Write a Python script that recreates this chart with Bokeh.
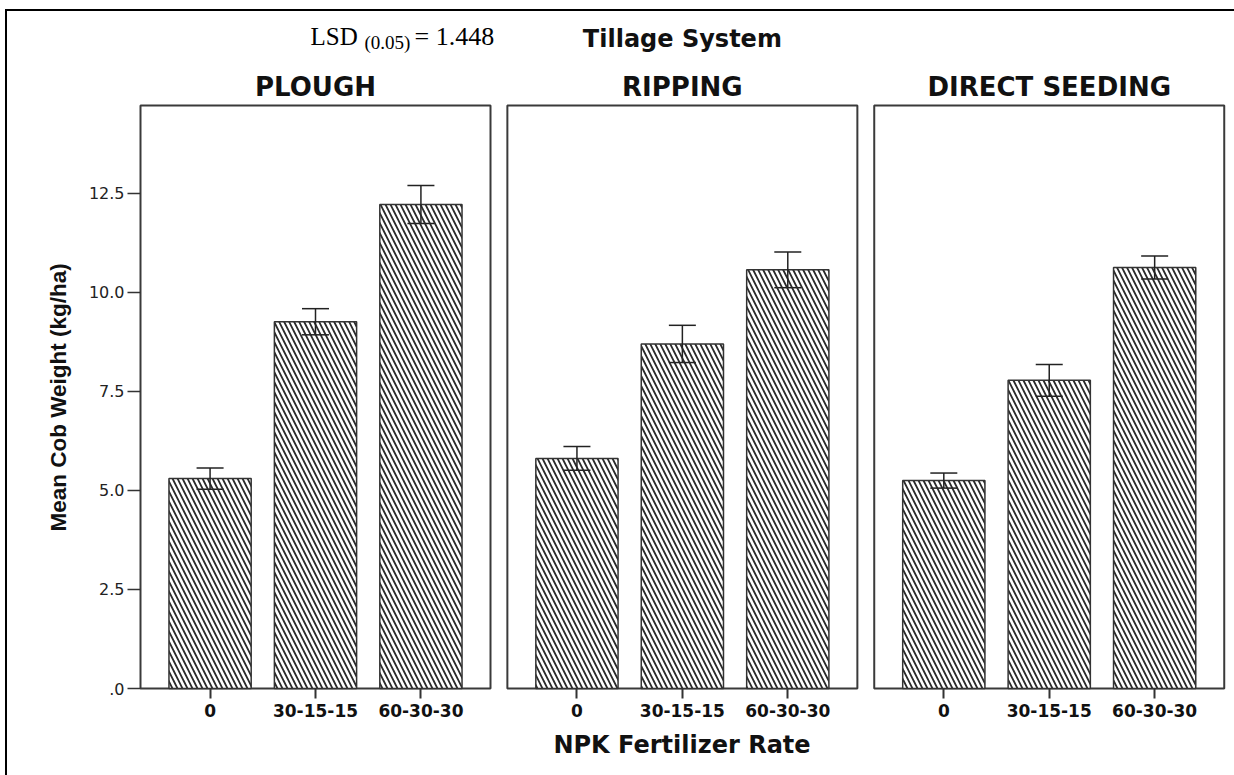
from bokeh.plotting import figure
from bokeh.models import (Range1d, FixedTicker, Whisker, TeeHead, ColumnDataSource, Label, Title)
from bokeh.embed import file_html
from bokeh.resources import INLINE

# ---------------- data ----------------
tillage = ["PLOUGH", "RIPPING", "DIRECT SEEDING"]
rates = ["0", "30-15-15", "60-30-30"]
plough_mean = [5.30, 9.26, 12.22]
plough_err = [0.27, 0.33, 0.48]
ripping_mean = [5.81, 8.70, 10.57]
ripping_err = [0.30, 0.47, 0.45]
direct_mean = [5.25, 7.78, 10.63]
direct_err = [0.19, 0.40, 0.29]
y_ticks = [0, 2.5, 5, 7.5, 10, 12.5]
y_tick_labels = [".0", "2.5", "5.0", "7.5", "10.0", "12.5"]
lsd_label = "LSD"
lsd_sub = "(0.05)"
lsd_value = "= 1.448"
panel_var_title = "Tillage System"
x_title = "NPK Fertilizer Rate"
y_title = "Mean Cob Weight (kg/ha)"

means = [plough_mean, ripping_mean, direct_mean]
errs = [plough_err, ripping_err, direct_err]

# ---------------- layout constants ----------------
PAD = 0.66          # space between panel edge and first/last category centre
GAP = 0.16          # gap between panels
PW = (len(rates) - 1) + 2 * PAD
STEP = PW + GAP
TOTAL = len(tillage) * PW + (len(tillage) - 1) * GAP
Y_TOP = 14.72
XS = 350 / PW       # px per x unit
YS = 583 / Y_TOP    # px per y unit
W, H = 1234, 775
X0, Y0 = 140, 688   # pixel position of the data origin (panel 1 lower-left corner)
FRAME_LEFT = X0 - 3
FRAME_RIGHT = 1226
FRAME_BOTTOM = Y0 + 3


def dx(px):  # pixel -> data x
    return (px - X0) / XS


def dy(py):  # pixel -> data y
    return (Y0 - py) / YS


p = figure(width=W, height=H, output_backend="svg", toolbar_location=None,
           x_range=Range1d(dx(FRAME_LEFT), dx(FRAME_RIGHT)),
           y_range=Range1d(dy(FRAME_BOTTOM), dy(0)),
           min_border_left=FRAME_LEFT, min_border_right=W - FRAME_RIGHT,
           min_border_top=0, min_border_bottom=H - FRAME_BOTTOM)
p.background_fill_color = None
p.border_fill_color = None
p.outline_line_color = None
p.xgrid.visible = False
p.ygrid.visible = False
# outer figure frame: only its top and left edges are inside the picture
p.styles = {
    "background-image": "linear-gradient(#000, #000), linear-gradient(#000, #000)",
    "background-size": "2px 3000px, 3000px 2px",
    "background-position": "5px 9px, 5px 9px",
    "background-repeat": "no-repeat, no-repeat",
}

# panel boxes
lefts = [round(i * STEP, 6) for i in range(len(tillage))]
rights = [round(i * STEP + PW, 6) for i in range(len(tillage))]
p.quad(left=lefts, right=rights, bottom=0, top=Y_TOP, fill_color=None,
       line_color="#3a3a3a", line_width=2)

# bars
xs, tops, ups, lows = [], [], [], []
for pi in range(len(tillage)):
    for ci in range(len(rates)):
        xs.append(round(pi * STEP + PAD + ci, 6))
        tops.append(means[pi][ci])
        ups.append(means[pi][ci] + errs[pi][ci])
        lows.append(means[pi][ci] - errs[pi][ci])
src = ColumnDataSource(dict(x=xs, top=tops, upper=ups, lower=lows))
p.vbar(x="x", top="top", bottom=0, width=0.78, source=src,
       fill_color="white", line_color="#333333", line_width=1.5,
       hatch_pattern="\\", hatch_color="#2a2a2a", hatch_scale=10, hatch_weight=1.8)

wh = Whisker(source=src, base="x", upper="upper", lower="lower",
             line_color="#222222", line_width=1.5,
             upper_head=TeeHead(size=27, line_color="#222222", line_width=1.5),
             lower_head=TeeHead(size=27, line_color="#222222", line_width=1.5))
wh.level = "overlay"
p.add_layout(wh)

# axes
xa = p.xaxis[0]
xa.ticker = FixedTicker(ticks=xs)
xa.major_label_overrides = {x: rates[i % len(rates)] for i, x in enumerate(xs)}
xa.axis_line_color = None
xa.major_tick_out = 7
xa.major_tick_in = 3
xa.major_tick_line_width = 2
xa.major_tick_line_color = "#333333"
xa.minor_tick_line_color = None
xa.major_label_text_font = "DejaVu Sans"
xa.major_label_text_font_style = "bold"
xa.major_label_text_font_size = "17px"
xa.major_label_text_color = "#111111"
xa.major_label_standoff = 5
xa.axis_label = x_title
xa.axis_label_text_font = "DejaVu Sans"
xa.axis_label_text_font_style = "bold"
xa.axis_label_text_font_size = "24px"
xa.axis_label_text_color = "#111111"
xa.axis_label_standoff = 11

ya = p.yaxis[0]
ya.ticker = FixedTicker(ticks=y_ticks)
ya.major_label_overrides = dict(zip(y_ticks, y_tick_labels))
ya.axis_line_color = None
ya.major_tick_out = 10
ya.major_tick_in = 3
ya.major_tick_line_width = 1.5
ya.major_tick_line_color = "#333333"
ya.minor_tick_line_color = None
ya.major_label_text_font = "DejaVu Sans"
ya.major_label_text_font_size = "16px"
ya.major_label_text_color = "#222222"
ya.major_label_standoff = 3

# y-axis title, placed beside the axis and aligned with the panels' middle
p.add_layout(Title(text=y_title, align="left", offset=FRAME_BOTTOM - 531,
                   standoff=30, text_font="Liberation Sans", text_font_style="bold",
                   text_font_size="22.5px", text_color="#111111",
                   vertical_align="bottom"), "left")

# panel titles
for pi, name in enumerate(tillage):
    p.add_layout(Label(x=pi * STEP + PW / 2, y=dy(86.5), text=name,
                       text_font="DejaVu Sans", text_font_style="bold",
                       text_font_size="26px", text_color="#111111",
                       text_align="center", text_baseline="middle"))

p.add_layout(Label(x=TOTAL / 2, y=dy(38), text=panel_var_title,
                   text_font="DejaVu Sans", text_font_style="bold",
                   text_font_size="24px", text_color="#111111",
                   text_align="center", text_baseline="middle"))

# LSD annotation
p.add_layout(Label(x=dx(310), y=dy(35.5), text=lsd_label,
                   text_font="Liberation Serif", text_font_size="25px",
                   text_color="black", text_align="left", text_baseline="middle"))
p.add_layout(Label(x=dx(364), y=dy(41.7), text=lsd_sub,
                   text_font="Liberation Serif", text_font_size="19px",
                   text_color="black", text_align="left", text_baseline="middle"))
p.add_layout(Label(x=dx(414), y=dy(35.5), text=lsd_value,
                   text_font="Liberation Serif", text_font_size="26px",
                   text_color="black", text_align="left", text_baseline="middle"))

open("out.html", "w").write(file_html(p, INLINE))
